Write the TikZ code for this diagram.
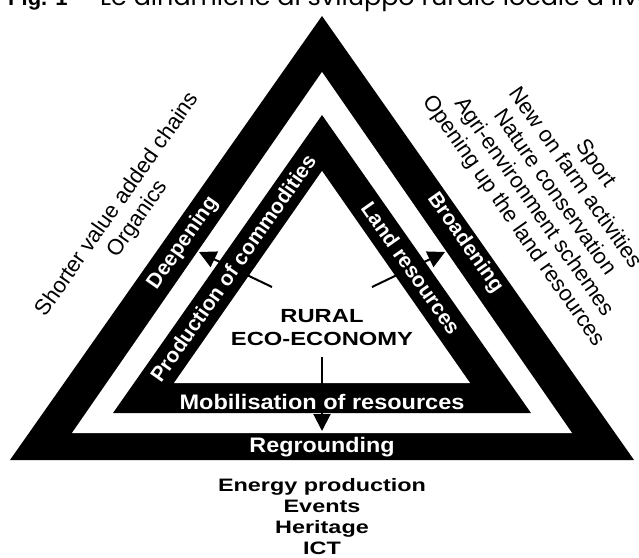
\documentclass[tikz,border=0pt]{standalone}
\usepackage{fontspec}
\setmainfont{Liberation Sans}
\newfontfamily\hdrfont{Poppins}
\usetikzlibrary{arrows.meta}
\begin{document}
\begin{tikzpicture}[x=1pt,y=-1pt,
  bandlabel/.style={text=white,font=\bfseries\fontsize{21}{24}\selectfont,inner sep=0pt},
  listlabel/.style={font=\fontsize{22}{25}\selectfont,align=center,inner sep=0pt},
  centrelabel/.style={font=\bfseries\fontsize{19}{23}\selectfont,inner sep=0pt,xscale=1.25,anchor=base},
  botlabel/.style={font=\bfseries\fontsize{18}{21}\selectfont,inner sep=0pt,xscale=1.3,anchor=base},
  flow/.style={line width=2pt,-{Triangle[length=17pt,width=17pt]}},
]
\useasboundingbox (0,0) rectangle (639,557);
\clip (0,0) rectangle (639,557);
\fill[white] (0,0) rectangle (639,557);
% header (cut off at the top)
\node[anchor=base west,inner sep=0pt,font=\bfseries\fontsize{22}{26}\selectfont] (hdra) at (8,5) {Fig. 1};
\node[anchor=base west,inner sep=0pt,font=\hdrfont\fontsize{24}{28}\selectfont,xscale=1.06] (hdrb) at (100,5)
  {Le dinamiche di sviluppo rurale locale a livello};
% nested triangles
\fill[black] (10,460) -- (322,16) -- (634,460) -- cycle;
\fill[white] (72,433) -- (322,72) -- (572,433) -- cycle;
\fill[black] (113,413) -- (322,115) -- (531,413) -- cycle;
\fill[white] (174,383) -- (322,171) -- (470,383) -- cycle;
% arrows
\coordinate (lsrc) at (272,287);
\coordinate (ltip) at (199,252);
\coordinate (rsrc) at (372,287);
\coordinate (rtip) at (445,252);
\coordinate (dsrc) at (322,357);
\coordinate (dtip) at (322,431);
\draw[flow] (lsrc) -- (ltip);
\draw[flow] (rsrc) -- (rtip);
\draw[flow] (dsrc) -- (dtip);
% band labels
\node[bandlabel,rotate=55] (deep) at (183,243) {Deepening};
\node[bandlabel,rotate=-55] (broad) at (465,243) {Broadening};
\node[bandlabel,rotate=55] (prod) at (233,268) {Production of commodities};
\node[bandlabel,rotate=-55] (land) at (411,268) {Land resources};
\node[bandlabel,anchor=base,xscale=1.12] (mob) at (322,409) {Mobilisation of resources};
\node[bandlabel,anchor=base,xscale=1.11] (reg) at (322,452) {Regrounding};
% centre
\node[centrelabel] (rural) at (322,322) {RURAL};
\node[centrelabel] (eco) at (322,345) {ECO-ECONOMY};
% outside lists
\node[listlabel,rotate=55] (leftlist) at (128,212) {Shorter value added chains\\Organics};
\node[listlabel,rotate=-55] (rightlist) at (554,193)
  {Sport\\New on farm activities\\Nature conservation\\Agri-environment schemes\\Opening up the land resources};
\node[botlabel] (b1) at (322,491) {Energy production};
\node[botlabel] (b2) at (322,512) {Events};
\node[botlabel] (b3) at (322,533) {Heritage};
\node[botlabel] (b4) at (322,554) {ICT};
\end{tikzpicture}
\end{document}
